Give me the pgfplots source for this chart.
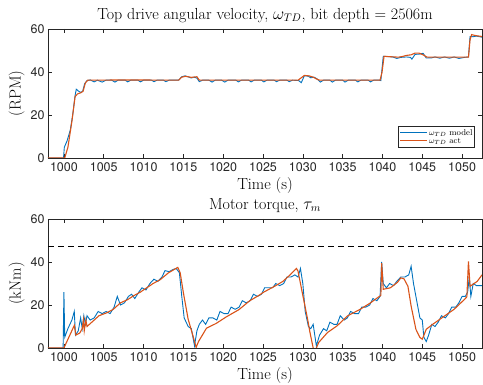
\documentclass[border=0pt]{standalone}
\usepackage{pgfplots}
\pgfplotsset{compat=1.18}
\usepackage{fontspec}
\setsansfont{TeX Gyre Heros}
\definecolor{mblue}{rgb}{0,0.447,0.741}
\definecolor{morange}{rgb}{0.85,0.325,0.098}
\definecolor{axgray}{rgb}{0.15,0.15,0.15}
\pgfplotsset{
  mystyle/.style={
    scale only axis, width=434pt, height=129pt,
    xmin=998, xmax=1052.5, ymin=0, ymax=60,
    xtick={1000,1005,...,1050}, ytick={0,20,40,60},
    tick align=inside, major tick length=4pt,
    axis line style={axgray, line width=0.5pt},
    tick style={axgray, line width=0.5pt},
    /pgf/number format/assume math mode=true,
    /pgf/number format/1000 sep={},
    ticklabel style={font=\sffamily\fontsize{12.5}{13}\selectfont, text=axgray},
    xticklabel style={yshift=-1pt},
    xlabel={Time (s)},
    label style={font=\fontsize{16}{18}\selectfont},
    title style={font=\fontsize{16}{18}\selectfont, yshift=-3pt},
    xlabel style={yshift=1pt},
    ylabel style={yshift=-1pt},
  }
}
\begin{document}
\begin{tikzpicture}
\begin{axis}[mystyle, at={(0,0)}, anchor=south west,
  title={Top drive angular velocity, $\omega_{TD}$, bit depth = 2506m},
  ylabel={(RPM)},
]
\addplot[draw=mblue, line width=0.9pt] coordinates {
(998,0) (999.95,0) (1000.05,5) (1000.4,8) (1000.8,13) (1001.1,20) (1001.4,29) (1001.55,32)
(1001.8,31.2) (1002.1,30.5) (1002.35,31) (1002.6,34.5) (1002.9,36) (1003.3,36.3) (1003.8,35.4)
(1004.2,36.2) (1004.8,35.3) (1005.3,36.2) (1006.0,36.2) (1006.4,35.3) (1006.8,36.2) (1007.7,36.2)
(1008.0,35.4) (1008.4,36.2) (1009.3,36.2) (1009.6,35.4) (1010.0,36.2) (1011.0,36.2) (1011.3,35.5)
(1011.7,36.2) (1012.5,36.2) (1012.8,35.5) (1013.2,36.2) (1014.4,36.2) (1014.8,37.8) (1015.2,38.2)
(1015.7,37.6) (1016.0,37.2) (1016.3,37.6) (1016.7,37.2) (1017.0,35.5) (1017.4,36.2) (1018.2,36.2)
(1018.6,35.3) (1019.0,36.2) (1019.8,36.2) (1020.2,35.3) (1020.6,36.2) (1021.6,36.2) (1021.9,35.4)
(1022.3,36.2) (1023.2,36.2) (1023.5,35.4) (1023.9,36.2) (1024.8,36.2) (1025.1,35.4) (1025.5,36.2)
(1026.4,36.2) (1026.7,35.5) (1027.1,36.2) (1028.0,36.2) (1028.3,35.5) (1028.7,36.2) (1029.5,36)
(1029.8,35) (1030.2,38.3) (1030.7,38) (1031.0,37.3) (1031.4,37.6) (1031.8,36.8) (1032.2,35.3)
(1032.6,36.2) (1033.4,36.2) (1033.7,35.3) (1034.1,36.2) (1035.0,36.2) (1035.3,35.3) (1035.7,36.2)
(1036.6,36.2) (1036.9,35.4) (1037.3,36.2) (1038.2,36.2) (1038.5,35.4) (1038.9,36.2) (1039.6,36.2)
(1039.8,36) (1040.1,47.3) (1040.6,47.2) (1041.3,47) (1041.8,46.3) (1042.3,46.8) (1043.0,47)
(1043.5,46.8) (1043.7,46) (1044.1,48.2) (1044.6,48.3) (1045.1,48.7) (1045.5,46.5) (1046.2,46.6)
(1046.6,47) (1047.2,46.4) (1047.8,47) (1048.4,46.4) (1049.0,47) (1049.6,46.3) (1050.3,46.8)
(1050.8,47) (1051.0,56.5) (1051.4,56.4) (1051.8,56.7) (1052.5,56.2)
};
\addplot[draw=morange, line width=1.1pt] coordinates {
(998,0) (1000.1,0) (1000.5,5) (1001.0,17) (1001.4,28.5) (1001.7,29.8) (1002.1,30.3) (1002.4,31)
(1002.7,35) (1003.0,36.2) (1008.0,36.3) (1014.4,36.2) (1014.8,37.6) (1015.3,38) (1016.0,37.5)
(1016.7,37.8) (1017.0,36.2) (1029.4,36.2) (1029.8,37.3) (1030.2,38.4) (1030.8,38.2) (1031.3,37.6)
(1031.8,36.6) (1032.1,36.2) (1039.7,36.2) (1039.95,40) (1040.2,47.3) (1041,47.1) (1042,46.9)
(1042.5,47.2) (1043,47.7) (1043.6,48) (1044.1,48.8) (1044.6,48.8) (1045.2,47.8) (1045.6,46.9)
(1050.8,46.9) (1051.0,55) (1051.2,57.4) (1051.6,57) (1052.5,56.5)
};
\node[draw=axgray, line width=0.5pt, fill=white, anchor=south east, inner sep=1.5pt,
  font=\fontsize{8.5}{10}\selectfont] at (rel axis cs:0.982,0.078)
  {\begin{tabular}{@{}l@{\hspace{2pt}}l@{}}
   \textcolor{mblue}{\rule[0.55ex]{27pt}{1.3pt}} & $\omega_{TD}$ model\\[-2pt]
   \textcolor{morange}{\rule[0.55ex]{27pt}{1.3pt}} & $\omega_{TD}$ act
   \end{tabular}};
\end{axis}
\begin{axis}[mystyle, at={(0,-190pt)}, anchor=south west,
  title={Motor torque, $\tau_m$},
  ylabel={(kNm)},
]
\addplot[black, line width=0.6pt, dash pattern=on 6pt off 4pt] coordinates {(998,47.5) (1052.5,47.5)};
\addplot[draw=mblue, line width=0.9pt] coordinates {
(998,0) (999.9,0) (1000.0,26) (1000.1,5) (1000.5,9) (1001.0,13) (1001.3,17) (1001.45,6)
(1001.8,8) (1002.1,14) (1002.3,9) (1002.5,15) (1002.7,11) (1002.9,15) (1003.3,13) (1003.8,14)
(1004.3,17) (1004.8,16) (1005.3,17) (1005.8,16) (1006.3,19) (1006.7,24) (1007.1,20) (1007.6,21)
(1008.1,24) (1008.5,25) (1008.9,23) (1009.4,26) (1009.8,28) (1010.3,27) (1010.8,30) (1011.3,32)
(1011.8,31) (1012.3,33) (1012.7,36) (1013.2,35.5) (1013.7,36.5) (1014.1,37) (1014.5,35) (1014.8,24)
(1015.1,14) (1015.6,10) (1016.0,9) (1016.4,1) (1016.7,8) (1017.0,11) (1017.4,13) (1017.8,11)
(1018.2,14) (1018.7,14) (1019.2,13) (1019.6,17) (1020.1,16) (1020.6,16) (1021.0,19) (1021.5,18)
(1022.0,19) (1022.4,22) (1022.9,21) (1023.4,22) (1023.8,25) (1024.3,24) (1024.8,25) (1025.2,28)
(1025.7,28) (1026.2,28) (1026.6,30) (1027.1,29) (1027.6,30) (1028.0,33) (1028.5,33) (1029.0,34)
(1029.4,33) (1029.7,37) (1030.0,30) (1030.3,17) (1030.7,10) (1031.0,9) (1031.3,11) (1031.7,1)
(1032.1,6) (1032.6,9) (1033.0,8) (1033.4,12) (1033.9,11) (1034.3,11) (1034.7,15) (1035.2,13)
(1035.6,14) (1036.0,17) (1036.5,16) (1037.0,16) (1037.4,19) (1037.9,19) (1038.4,20) (1038.8,23)
(1039.3,22) (1039.7,24) (1039.9,40) (1040.1,30) (1040.5,28) (1040.9,30) (1041.4,29) (1041.8,31)
(1042.3,33) (1042.8,33) (1043.3,34) (1043.6,38) (1043.9,30) (1044.3,22) (1044.7,14) (1045.0,13)
(1045.2,5) (1045.5,3) (1045.8,6) (1046.2,11) (1046.6,10) (1047.0,12) (1047.4,15) (1047.9,14)
(1048.3,16) (1048.7,19) (1049.2,19) (1049.6,21) (1050.0,24) (1050.4,24) (1050.7,26) (1050.9,33)
(1051.1,24) (1051.4,30) (1051.8,29) (1052.5,29)
};
\addplot[draw=morange, line width=1.1pt] coordinates {
(998,0) (1000.0,0) (1001.3,10.5) (1001.5,6) (1002.0,7) (1002.3,9) (1002.45,13) (1002.55,8)
(1002.75,13) (1002.9,10) (1003.5,12) (1004.4,15) (1005.4,16.4) (1006.2,18) (1007.1,21) (1008.0,22.5)
(1008.8,24.4) (1009.6,26) (1010.4,28) (1011.2,30) (1012.1,31.8) (1013.1,34.9) (1014.3,37.5)
(1014.6,35) (1015.0,25.7) (1015.6,13.4) (1016.2,5.7) (1016.6,0.3) (1016.9,3) (1017.9,9.2)
(1019.1,11.4) (1020.4,14.5) (1022.0,17.9) (1023.3,21.9) (1024.5,24.5) (1025.1,26) (1026.6,29)
(1027.5,31) (1028.4,34) (1029.2,37) (1029.4,35.7) (1030.1,22.6) (1030.6,13.4) (1030.9,7.2)
(1031.3,0) (1031.5,-2) (1031.7,0) (1032.0,2.6) (1033.1,7.2) (1034.3,10.3) (1035.6,14.9) (1037.2,18)
(1038.5,21) (1039.5,23.7) (1039.8,24.5) (1039.9,39.5) (1040.1,27.3) (1041.0,28) (1041.9,30.6)
(1042.3,32.6) (1042.7,32.2) (1043.2,28.7) (1043.6,19.5) (1044.2,8.7) (1044.7,4.9) (1045.0,4.1)
(1045.5,8.7) (1046.3,11) (1047.8,14.9) (1049.0,18) (1050.3,22.6) (1050.6,23.8) (1050.8,40.3)
(1051.0,28.7) (1051.9,31) (1052.5,34)
};
\end{axis}
\pgfresetboundingbox
\path[use as bounding box] (-48pt,-227pt) rectangle (435pt,158pt);
\end{tikzpicture}
\end{document}
